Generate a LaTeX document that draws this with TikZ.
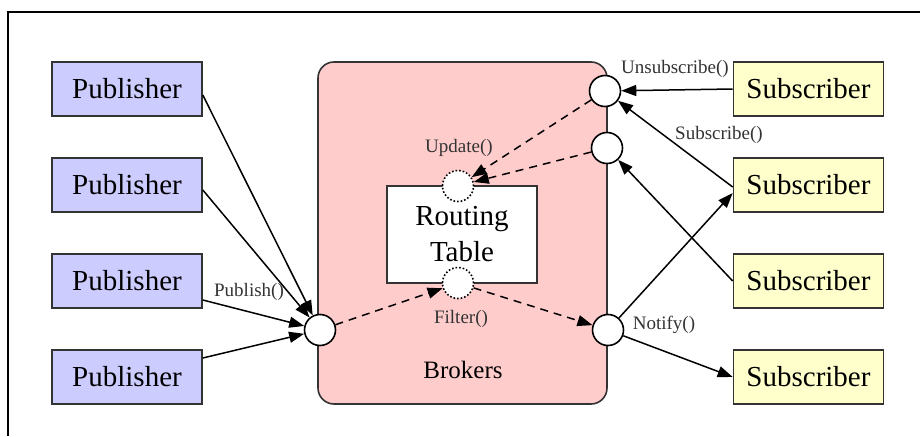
\documentclass[tikz,border=0pt]{standalone}
\usepackage{fontspec}
\setmainfont{Liberation Serif}
\usepackage{tikz}
\usetikzlibrary{arrows.meta}
\usepackage{xcolor}

\definecolor{pubblue}{HTML}{CCCCFF}
\definecolor{subyellow}{HTML}{FFFFCC}
\definecolor{brokerpink}{HTML}{FFCCCC}
\definecolor{edgegray}{HTML}{333333}

\tikzset{
  pub/.style={draw=edgegray, line width=1.6pt, fill=pubblue, minimum width=150pt,
    minimum height=54pt, inner sep=0pt, font=\fontsize{29}{31}\selectfont},
  sub/.style={pub, fill=subyellow},
  port/.style={circle, draw=black, line width=1.6pt, fill=white, minimum size=31pt, inner sep=0pt},
  hook/.style={port, dotted},
  call/.style={font=\fontsize{19}{20}\selectfont, text=black!80},
  msg/.style={line width=1.5pt, -{Triangle[length=15pt,width=11pt]}},
  flow/.style={msg, dash pattern=on 8pt off 6pt},
}

\begin{document}
\begin{tikzpicture}[x=1pt,y=-1pt]
\useasboundingbox (0,0) rectangle (920,436);
\draw[line width=1.2pt] (8,436) -- (8,12) -- (920,12);

\node[draw=edgegray, line width=1.6pt, fill=brokerpink, rounded corners=16pt,
  minimum width=289pt, minimum height=342pt] (broker) at (462.5,233) {};
\node[font=\fontsize{25}{27}\selectfont] (brokers) at (463,370) {Brokers};
\node[draw=edgegray, line width=1.6pt, fill=white, minimum width=150pt, minimum height=97pt,
  align=center, font=\fontsize{29}{36}\selectfont] (table) at (462,234.5) {Routing\\Table};
\node[hook] (upd) at (458,186) {};
\node[hook] (filt) at (458,283) {};

\node[port] (pin) at (320,330) {};
\node[port] (punsub) at (605,91) {};
\node[port] (psub) at (607,148) {};
\node[port] (pnotify) at (608,330) {};

\node[pub] (p1) at (127,89) {Publisher};
\node[pub] (p2) at (127,185) {Publisher};
\node[pub] (p3) at (127,281) {Publisher};
\node[pub] (p4) at (127,377) {Publisher};

\node[sub] (s1) at (808.5,89) {Subscriber};
\node[sub] (s2) at (808.5,185) {Subscriber};
\node[sub] (s3) at (808.5,281) {Subscriber};
\node[sub] (s4) at (808.5,377) {Subscriber};

\draw[msg] ([yshift=-6pt]p1.east) -- (pin);
\draw[msg] ([yshift=-5pt]p2.east) -- (pin);
\draw[msg] ([yshift=-19pt]p3.east) -- (pin);
\draw[msg] ([yshift=19pt]p4.east) -- (pin);

\draw[flow] (pin) -- (filt);
\draw[flow] (filt) -- (pnotify);
\draw[flow] (punsub) -- (upd);
\draw[flow] (psub) -- (upd);

\draw[msg] (s1.west) -- (punsub);
\draw[msg] ([yshift=-2pt]s2.west) -- (punsub);
\draw[msg] (s3.west) -- (psub);
\draw[msg] (pnotify) -- ([yshift=-8pt]s2.west);
\draw[msg] (pnotify) -- (s4.west);

\node[call] (publish) at (249,292) {Publish()};
\node[call] (unsubscribe) at (675,69) {Unsubscribe()};
\node[call] (subscribe) at (719,135) {Subscribe()};
\node[call] (update) at (459,148) {Update()};
\node[call] (filter) at (461,319) {Filter()};
\node[call] (notify) at (664,325) {Notify()};

\end{tikzpicture}
\end{document}
